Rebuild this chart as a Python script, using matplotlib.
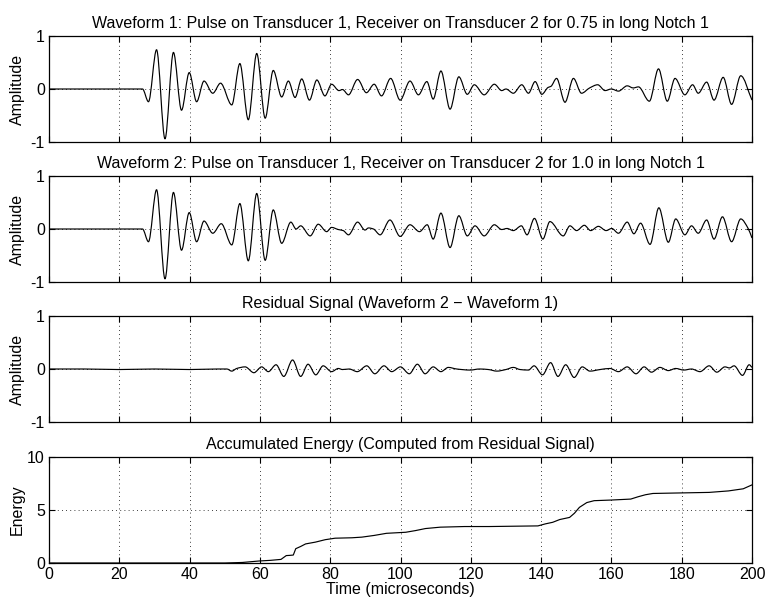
import numpy as np
import matplotlib
matplotlib.use("Agg")
import matplotlib.pyplot as plt
from matplotlib.path import Path
from matplotlib.patches import PathPatch

# ---------------- data ----------------
titles = [
    "Waveform 1: Pulse on Transducer 1, Receiver on Transducer 2 for 0.75 in long Notch 1",
    "Waveform 2: Pulse on Transducer 1, Receiver on Transducer 2 for 1.0 in long Notch 1",
    "Residual Signal (Waveform 2 \u2212 Waveform 1)",
    "Accumulated Energy (Computed from Residual Signal)",
]
x_ticks = [0, 20, 40, 60, 80, 100, 120, 140, 160, 180, 200]

w1_t = [0, 26.6, 28.3, 30.6, 33.0, 35.4, 37.7, 39.9, 42.0, 44.1, 46.6, 48.8,
        52.0, 54.3, 56.7, 59.1, 61.5, 63.8, 66.2, 68.1, 70.0, 71.9, 74.1,
        76.2, 78.5, 80.4, 82.5, 83.5, 85.2, 87.8, 90.3, 92.5, 94.6, 97.2,
        99.9, 102.7, 105.1, 107.5, 109.3, 111.5, 114.1, 116.6, 119.0, 121.0,
        123.8, 126.7, 128.8, 130.0, 132.1, 134.5, 136.4, 138.3, 140.2, 142.0,
        142.8, 144.4, 146.8, 149.2, 151.5, 153.8, 156.1, 158.2, 160.0, 162.0,
        164.5, 166.2, 167.7, 170.8, 173.4, 175.9, 178.1, 180.9, 183.1, 184.7,
        187.1, 189.2, 191.8, 194.2, 196.8, 200.0]
w1_v = [0, 0, -0.24, 0.74, -0.94, 0.69, -0.40, 0.31, -0.24, 0.15, -0.08, 0.11,
        -0.30, 0.48, -0.58, 0.67, -0.55, 0.35, -0.15, 0.15, -0.16, 0.19, -0.21,
        0.17, -0.13, 0.09, -0.03, -0.01, -0.11, 0.18, -0.07, 0.09, -0.13, 0.20,
        -0.21, 0.15, -0.11, 0.14, -0.19, 0.34, -0.38, 0.23, -0.10, 0.08,
        -0.11, 0.09, -0.03, 0.0, -0.08, 0.08, -0.08, 0.14, -0.10, 0.03,
        0.05, 0.20, -0.25, 0.20, -0.08, 0.02, 0.08, -0.03, 0.0, -0.04,
        0.06, 0.02, 0.04, -0.23, 0.38, -0.23, 0.20, -0.11, 0.08, -0.08,
        0.13, -0.21, 0.22, -0.29, 0.25, -0.21]

w2_t = [0, 26.6, 28.3, 30.6, 33.0, 35.4, 37.7, 39.9, 42.0, 44.1, 46.6, 49.0,
        52.0, 54.3, 56.7, 59.1, 61.5, 63.8, 66.2, 68.8, 70.3, 71.6, 74.3,
        76.6, 79.0, 80.4, 82.3, 83.7, 85.2, 87.8, 89.9, 90.9, 92.3, 94.2,
        97.0, 99.9, 102.7, 105.4, 107.6, 109.3, 111.5, 114.1, 116.6, 119.0,
        121.2, 123.8, 126.7, 128.8, 130.3, 132.1, 134.4, 136.0, 138.1, 140.5,
        142.5, 146.3, 148.2, 150.1, 152.3, 154.1, 156.3, 158.5, 160.1, 162.0,
        164.5, 166.4, 168.3, 171.0, 173.5, 176.2, 178.3, 180.9, 182.8, 184.7,
        187.1, 189.2, 191.6, 194.2, 196.8, 198.9, 200.0]
w2_v = [0, 0, -0.24, 0.74, -0.94, 0.69, -0.40, 0.31, -0.24, 0.15, -0.08, 0.10,
        -0.30, 0.48, -0.60, 0.67, -0.59, 0.36, -0.27, 0.13, 0.0, 0.06, -0.13,
        0.09, -0.05, 0.03, -0.01, -0.03, -0.11, 0.13, -0.02, 0.02, 0.0, -0.11,
        0.17, -0.14, 0.08, -0.05, 0.08, -0.19, 0.30, -0.35, 0.25, -0.13,
        0.06, -0.13, 0.08, -0.01, 0.01, -0.03, 0.06, -0.11, 0.20, -0.19,
        0.14, -0.13, 0.06, -0.03, 0.07, -0.03, 0.05, -0.03, 0.01, -0.08,
        0.13, -0.09, 0.11, -0.29, 0.40, -0.25, 0.19, -0.11, 0.06, -0.08,
        0.17, -0.19, 0.23, -0.24, 0.19, 0.01, -0.17]

r_t = [0, 10, 20, 30, 40, 48, 50.6, 52.0, 53.4, 55.8, 58.3, 60.5, 62.4, 64.6,
       66.8, 69.3, 71.6, 73.7, 75.9, 78.0, 80.4, 82.3, 83.5, 85.4, 87.7, 90.4,
       92.7, 95.3, 97.5, 100.0, 102.5, 104.8, 107.0, 109.3, 111.5, 113.6,
       116.0, 119.8, 122.5, 125.0, 127.4, 130.0, 132.1, 134.0, 136.4, 138.0,
       140.4, 142.7, 144.8, 147.0, 149.4, 151.7, 153.9, 156.8, 159.6, 162.0,
       164.5, 167.0, 169.3, 171.4, 173.8, 176.2, 178.3, 180.6, 182.8, 185.2,
       187.8, 190.0, 192.3, 193.6, 194.9, 197.3, 199.2, 200.0]
r_v = [0, 0.0, -0.01, 0.0, -0.01, 0.0, 0.0, -0.04, 0.01, 0.04, -0.07, 0.04,
       -0.05, 0.08, -0.14, 0.17, -0.14, 0.09, -0.11, 0.06, -0.05, 0.01, -0.01,
       0.0, -0.05, 0.06, -0.09, 0.06, -0.05, 0.04, -0.09, 0.09, -0.09, 0.04,
       -0.05, 0.03, 0.0, -0.02, 0.0, -0.01, -0.04, -0.01, 0.03, -0.01, -0.02,
       0.06, -0.11, 0.12, -0.14, 0.08, -0.16, 0.04, -0.04, -0.01, 0.01, -0.05,
       0.04, -0.09, 0.04, -0.06, 0.03, -0.03, 0.01, -0.02, 0.0, -0.05, 0.06,
       -0.06, 0.04, 0.02, 0.06, -0.12, 0.08, 0.03]

e_t = [0, 50, 55, 59.8, 63, 66, 67.5, 68.5, 69.5, 70.2, 71.6, 73.0, 75.8,
       78.6, 81.4, 86.2, 89.0, 92.5, 96.0, 101.5, 104.3, 107.1, 111.3, 118.2,
       125.2, 132.1, 139.1, 141.2, 143.3, 145.3, 148.1, 149.5, 150.9, 153.0,
       155.1, 160.0, 165.5, 167.6, 169.7, 171.8, 178.0, 187.8, 193.3, 197.5,
       200]
e_v = [0, 0, 0.05, 0.19, 0.25, 0.34, 0.7, 0.72, 0.75, 1.35, 1.56, 1.8, 1.97,
       2.2, 2.34, 2.38, 2.44, 2.6, 2.8, 2.9, 3.06, 3.25, 3.38, 3.44,
       3.44, 3.47, 3.5, 3.69, 3.84, 4.1, 4.3, 4.7, 5.25, 5.7,
       5.88, 5.94, 6.03, 6.25, 6.44, 6.56, 6.6, 6.66, 6.8, 7.0, 7.37]


# ---------------- helpers ----------------
def pchip_slopes(x, y):
    x = np.asarray(x, float)
    y = np.asarray(y, float)
    h = np.diff(x)
    d = np.diff(y) / h
    m = np.zeros_like(y)
    for i in range(1, len(y) - 1):
        if d[i - 1] * d[i] > 0:
            w1 = 2 * h[i] + h[i - 1]
            w2 = h[i] + 2 * h[i - 1]
            m[i] = (w1 + w2) / (w1 / d[i - 1] + w2 / d[i])
    m[0] = d[0]
    m[-1] = d[-1]
    return m


def smooth_path(x, y):
    m = pchip_slopes(x, y)
    verts = [(x[0], y[0])]
    codes = [Path.MOVETO]
    for i in range(len(x) - 1):
        h = x[i + 1] - x[i]
        verts += [(x[i] + h / 3, y[i] + m[i] * h / 3),
                  (x[i + 1] - h / 3, y[i + 1] - m[i + 1] * h / 3),
                  (x[i + 1], y[i + 1])]
        codes += [Path.CURVE4] * 3
    return Path(verts, codes)


# ---------------- figure ----------------
plt.rcParams['font.family'] = ['Liberation Sans', 'DejaVu Sans']
plt.rcParams['axes.unicode_minus'] = False
FS = 11.5

fig = plt.figure(figsize=(7.67, 6.03), dpi=100)
L, W, H = 49 / 767, 703 / 767, 106 / 603
bottoms = [1 - 142 / 603, 1 - 282 / 603, 1 - 422 / 603, 1 - 563 / 603]
axes = [fig.add_axes([L, b, W, H]) for b in bottoms]

series = [(w1_t, w1_v), (w2_t, w2_v), (r_t, r_v)]
for i, ax in enumerate(axes):
    ax.set_xlim(0, 200)
    ax.set_xticks(x_ticks)
    if i < 3:
        ax.set_ylim(-1, 1)
        ax.set_yticks([-1, 0, 1])
        ax.set_yticklabels(['-1', '0', '1'])
        ax.set_ylabel('Amplitude', fontsize=FS, labelpad=4)
        ax.tick_params(labelbottom=False)
        t, v = series[i]
        ax.add_patch(PathPatch(smooth_path(t, v), fill=False, lw=0.85,
                               ec='black', zorder=3))
    else:
        ax.set_ylim(0, 10)
        ax.set_yticks([0, 5, 10])
        ax.set_ylabel('Energy', fontsize=FS, labelpad=2)
        ax.plot(e_t, e_v, color='black', lw=0.85, zorder=3)
        ax.set_xlabel('Time (microseconds)', fontsize=FS, labelpad=0)
    ax.set_title(titles[i], fontsize=FS, pad=6)
    ax.grid(True, color='black', linestyle=(0, (1, 4)), linewidth=0.6)
    ax.tick_params(direction='in', length=4, width=0.8, top=True, right=True,
                   labelsize=FS, pad=3)
    for s in ax.spines.values():
        s.set_linewidth(0.9)

fig.savefig('out.png', dpi=100)
